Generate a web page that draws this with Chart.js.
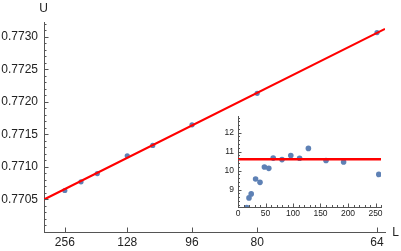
<!DOCTYPE html>
<html><head><meta charset="utf-8">
<script src="https://cdn.jsdelivr.net/npm/chart.js@4/dist/chart.umd.min.js"></script>
<style>
html,body{margin:0;padding:0;background:#fff;}
#wrap{position:relative;width:401px;height:251px;overflow:hidden;background:#fff;}
#main{position:absolute;left:0;top:0;}
#inset{position:absolute;left:200px;top:105px;}
</style></head><body>
<div id="wrap"><canvas id="main" width="401" height="251"></canvas><canvas id="inset" width="185" height="125"></canvas></div>
<script>
// ---- data ----
const mainL = [256, 192, 160, 128, 112, 96, 80, 64];
const mainU = [0.770638, 0.770771, 0.770898, 0.771173, 0.771331, 0.771648, 0.772133, 0.773067];
const fitIntercept = 0.7705;
const fitSlope = 10.5;
const xTickL = [256, 128, 96, 80, 64];
const yTicks = [0.7705, 0.7710, 0.7715, 0.7720, 0.7725, 0.7730];

const insetL = [16, 20, 24, 32, 40, 48, 56, 64, 80, 96, 112, 128, 160, 192, 256];
const insetV = [8.05, 8.56, 8.77, 9.56, 9.38, 10.19, 10.12, 10.66, 10.58, 10.80, 10.65, 11.17, 10.53, 10.45, 9.80];
const insetLevel = 10.6;
const insetXTicks = [0, 50, 100, 150, 200, 250];
const insetYTicks = [9, 10, 11, 12];

// ---- styling ----
const axisColor = '#555555';
const textColor = '#222222';
const pointColor = '#5e81b5';
const lineColor = '#ff0000';
Chart.defaults.font.family = '"Liberation Sans", Arial, sans-serif';
Chart.defaults.color = textColor;

const xMax = 2.5e-4, yMin = 0.7700, yMax = 0.77323;
const insXMax = 260, insYMin = 8.08, insYMax = 12.88;

function minorList(lo, hi, step, majors) {
  const out = [];
  const n = Math.round((hi - lo) / step);
  for (let i = 0; i <= n; i++) {
    const v = lo + i * step;
    if (!majors.some(m => Math.abs(m - v) < step / 10)) out.push(v);
  }
  return out;
}

const inwardTicks = {
  id: 'inwardTicks',
  afterDatasetsDraw(chart, args, o) {
    const ctx = chart.ctx, ca = chart.chartArea, xs = chart.scales.x, ys = chart.scales.y;
    ctx.save();
    ctx.strokeStyle = axisColor; ctx.lineWidth = 1;
    ctx.beginPath();
    (o.xMajor || []).forEach(v => { const p = Math.round(xs.getPixelForValue(v)) + 0.5; ctx.moveTo(p, ca.bottom); ctx.lineTo(p, ca.bottom - o.major); });
    (o.xMinor || []).forEach(v => { const p = Math.round(xs.getPixelForValue(v)) + 0.5; ctx.moveTo(p, ca.bottom); ctx.lineTo(p, ca.bottom - o.minor); });
    (o.yMajor || []).forEach(v => { const p = Math.round(ys.getPixelForValue(v)) + 0.5; ctx.moveTo(ca.left, p); ctx.lineTo(ca.left + o.major, p); });
    (o.yMinor || []).forEach(v => { const p = Math.round(ys.getPixelForValue(v)) + 0.5; ctx.moveTo(ca.left, p); ctx.lineTo(ca.left + o.minor, p); });
    ctx.stroke();
    if (o.labels) {
      ctx.fillStyle = textColor;
      ctx.font = '12px "Liberation Sans", Arial, sans-serif';
      ctx.textAlign = 'center'; ctx.textBaseline = 'middle';
      ctx.fillText(o.labels.y, ca.left - 0.5, ca.top - 13.5);
      ctx.fillText(o.labels.x, ca.right + 10.5, ca.bottom + 0.5);
    }
    ctx.restore();
  }
};

new Chart(document.getElementById('main'), {
  type: 'scatter',
  data: {
    datasets: [
      { type: 'line', order: 0,
        data: [{ x: 0, y: fitIntercept }, { x: xMax, y: fitIntercept + fitSlope * xMax }],
        borderColor: lineColor, borderWidth: 2, pointRadius: 0, fill: false },
      { order: 1,
        data: mainL.map((L, i) => ({ x: 1 / (L * L), y: mainU[i] })),
        backgroundColor: pointColor, borderWidth: 0, pointRadius: 2.6 }
    ]
  },
  options: {
    responsive: false, animation: false, devicePixelRatio: 1,
    layout: { padding: { top: 22, right: 16, left: 0, bottom: 0 } },
    plugins: {
      legend: { display: false }, tooltip: { enabled: false },
      inwardTicks: {
        major: 4.5, minor: 2.5,
        xMajor: xTickL.map(L => 1 / (L * L)),
        yMajor: yTicks,
        yMinor: minorList(0.7701, 0.7732, 0.0001, yTicks),
        labels: { x: 'L', y: 'U' }
      }
    },
    scales: {
      x: {
        type: 'linear', min: 0, max: xMax,
        grid: { display: false, drawTicks: false },
        border: { display: true, color: axisColor, width: 1 },
        afterBuildTicks: s => { s.ticks = xTickL.map(L => ({ value: 1 / (L * L) })); },
        ticks: { autoSkip: false, maxRotation: 0, minRotation: 0, padding: 3, color: textColor, font: { size: 12 },
          callback: v => String(xTickL.find(L => Math.abs(1 / (L * L) - v) < 1e-9)) },
        afterFit: s => { s.height = 19; }
      },
      y: {
        type: 'linear', min: yMin, max: yMax,
        grid: { display: false, drawTicks: false },
        border: { display: true, color: axisColor, width: 1 },
        afterBuildTicks: s => { s.ticks = yTicks.map(v => ({ value: v })); },
        ticks: { autoSkip: false, padding: 6, color: textColor, font: { size: 12 },
          callback: v => Number(v).toFixed(4) },
        afterFit: s => { s.width = 44; }
      }
    }
  },
  plugins: [inwardTicks]
});

new Chart(document.getElementById('inset'), {
  type: 'scatter',
  data: {
    datasets: [
      { type: 'line', order: 0,
        data: [{ x: 0, y: insetLevel }, { x: insXMax, y: insetLevel }],
        borderColor: lineColor, borderWidth: 2.5, pointRadius: 0, fill: false },
      { order: 1,
        data: insetL.map((L, i) => ({ x: L, y: insetV[i] })),
        backgroundColor: pointColor, borderWidth: 0, pointRadius: 2.8 }
    ]
  },
  options: {
    responsive: false, animation: false, devicePixelRatio: 1,
    layout: { padding: { top: 11, right: 1, left: 0, bottom: 0 } },
    plugins: {
      legend: { display: false }, tooltip: { enabled: false },
      inwardTicks: {
        major: 3.5, minor: 2,
        xMajor: insetXTicks, xMinor: minorList(0, 260, 10, insetXTicks),
        yMajor: insetYTicks, yMinor: minorList(8.2, 12.8, 0.2, insetYTicks)
      }
    },
    scales: {
      x: {
        type: 'linear', min: 0, max: insXMax,
        grid: { display: false, drawTicks: false },
        border: { display: true, color: axisColor, width: 1 },
        afterBuildTicks: s => { s.ticks = insetXTicks.map(v => ({ value: v })); },
        ticks: { autoSkip: false, maxRotation: 0, minRotation: 0, padding: 2, color: textColor, font: { size: 8.5 } },
        afterFit: s => { s.height = 23; }
      },
      y: {
        type: 'linear', min: insYMin, max: insYMax,
        grid: { display: false, drawTicks: false },
        border: { display: true, color: axisColor, width: 1 },
        afterBuildTicks: s => { s.ticks = insetYTicks.map(v => ({ value: v })); },
        ticks: { autoSkip: false, padding: 4, color: textColor, font: { size: 8.5 } },
        afterFit: s => { s.width = 38; }
      }
    }
  },
  plugins: [inwardTicks]
});
</script>
</body></html>
